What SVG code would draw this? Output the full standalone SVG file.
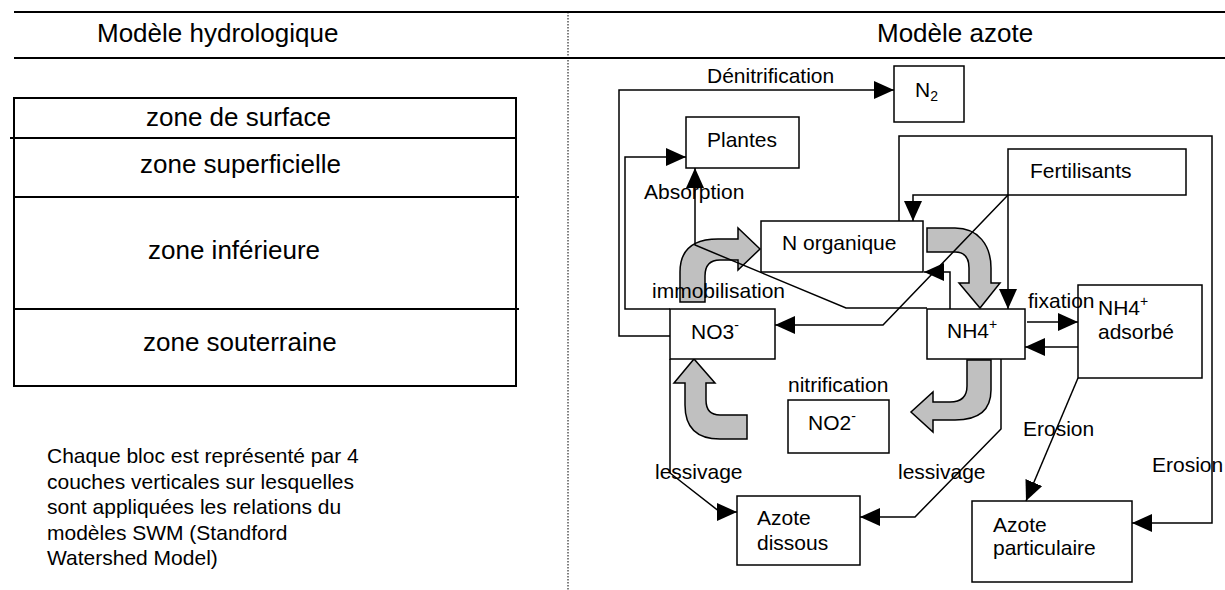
<svg xmlns="http://www.w3.org/2000/svg" width="1225" height="590" viewBox="0 0 1225 590">
<style>
text{font-family:"Liberation Sans",Arial,sans-serif;font-size:21px;fill:#000}
.h{font-size:26px}
.z{font-size:26px}
.box{fill:#fff;stroke:#000;stroke-width:1.5}
.tb{fill:#fff;stroke:#000;stroke-width:2}
.ln{fill:none;stroke:#000;stroke-width:1.5}
.arr{marker-end:url(#ah)}
.g{fill:#c0c0c0;stroke:#000;stroke-width:1.5}
.rule{stroke:#000;stroke-width:2}
.sm{font-size:14px}
</style>
<defs>
<marker id="ah" markerUnits="userSpaceOnUse" markerWidth="20" markerHeight="18" refX="20" refY="9" orient="auto"><path d="M0,0 L20,9 L0,18 Z" fill="#000"/></marker>
</defs>
<rect width="1225" height="590" fill="#fff"/>
<g id="header">
<line class="rule" x1="14" y1="12" x2="1225" y2="12"/>
<line class="rule" x1="14" y1="58" x2="1225" y2="58"/>
<line x1="568" y1="12" x2="568" y2="590" stroke="#000" stroke-width="1" stroke-dasharray="1.5,1.5"/>
<text class="h" x="97" y="42">Modèle hydrologique</text>
<text class="h" x="877" y="42">Modèle azote</text>
</g>
<g id="hydro">
<rect class="tb" x="14" y="98" width="502" height="288"/>
<line class="rule" x1="10" y1="138" x2="516" y2="138"/>
<line class="rule" x1="14" y1="197" x2="519" y2="197"/>
<line class="rule" x1="14" y1="309" x2="519" y2="309"/>
<text class="z" x="146" y="126">zone de surface</text>
<text class="z" x="140" y="173">zone superficielle</text>
<text class="z" x="148" y="259">zone inférieure</text>
<text class="z" x="143" y="351">zone souterraine</text>
</g>
<g id="note">
<text x="47" y="463">Chaque bloc est représenté par 4</text>
<text x="47" y="489">couches verticales sur lesquelles</text>
<text x="47" y="514">sont appliquées les relations du</text>
<text x="47" y="540">modèles SWM (Standford</text>
<text x="47" y="565">Watershed Model)</text>
</g>
<g id="flows">
<path class="g" d="M680,302 L680,272 Q680,239 718,239 L738,239 L738,228 L760,249 L738,270 L738,260 L720,260 Q705,260 705,276 L705,302 Z"/>
<path class="g" d="M927,228 L955,228 C978,228 991,245 991,268 L991,283 L1000,283 L980,308 L959,283 L969,283 L969,268 Q969,252 955,252 L927,252 Z"/>
<path class="g" d="M967,360 L967,386 Q967,402 950,402 L933,402 L933,392 L911,412 L933,432 L933,420 L955,420 Q991,420 991,390 L991,360 Z"/>
<path class="g" d="M747,415 L720,415 Q706,415 706,400 L706,383 L715,383 L694,359 L674,383 L685,383 L685,405 Q685,439 720,439 L747,439 Z"/>
</g>
<g id="n2"><rect class="box" x="894" y="66" width="70" height="56"/><text x="915" y="97">N<tspan class="sm" dy="4">2</tspan></text></g>
<g id="plantes"><rect class="box" x="686" y="117" width="113" height="51"/><text x="707" y="147">Plantes</text></g>
<g id="fertilisants"><rect class="box" x="1008" y="149" width="178" height="46"/><text x="1030" y="178">Fertilisants</text></g>
<g id="norganique"><rect class="box" x="761" y="221" width="162" height="51"/><text x="782" y="250">N organique</text></g>
<g id="no3"><rect class="box" x="670" y="309" width="105" height="50"/><text x="691" y="339">NO3<tspan class="sm" dy="-9">-</tspan></text></g>
<g id="nh4"><rect class="box" x="927" y="309" width="98" height="50"/><text x="947" y="338">NH4<tspan class="sm" dy="-9">+</tspan></text></g>
<g id="nh4ads"><rect class="box" x="1078" y="285" width="124" height="93"/><text x="1098" y="315">NH4<tspan class="sm" dy="-9">+</tspan></text><text x="1098" y="339">adsorbé</text></g>
<g id="no2"><rect class="box" x="788" y="400" width="101" height="53"/><text x="808" y="430">NO2<tspan class="sm" dy="-9">-</tspan></text></g>
<g id="azdissous"><rect class="box" x="737" y="496" width="123" height="69"/><text x="757" y="525">Azote</text><text x="757" y="550">dissous</text></g>
<g id="azpart"><rect class="box" x="972" y="501" width="160" height="81"/><text x="993" y="532">Azote</text><text x="993" y="555">particulaire</text></g>
<g id="connectors">
<path class="ln arr" d="M670,336 H619 V90 H894"/>
<path class="ln arr" d="M670,309 H625 V157 H686"/>
<path class="ln arr" d="M927,308 H846 L695,245 V168"/>
<path class="ln arr" d="M1008,195 H913 V221"/>
<path class="ln arr" d="M1008,195 V309"/>
<path class="ln arr" d="M1008,195 L883,325 H775"/>
<path class="ln arr" d="M950,309 V272 H924"/>
<path class="ln arr" d="M899,221 V136 H1212 V523 H1132"/>
<path class="ln arr" d="M1027,322 H1078"/>
<path class="ln arr" d="M1078,347 H1025"/>
<path class="ln arr" d="M1078,378 L1026,501"/>
<path class="ln arr" d="M670,359 V473 L720,512 H737"/>
<path class="ln arr" d="M1001,359 V429 L915,517 H860"/>
</g>
<g id="labels">
<text x="707" y="83">Dénitrification</text>
<text x="644" y="199">Absorption</text>
<text x="652" y="298">immobilisation</text>
<text x="788" y="392">nitrification</text>
<text x="1028" y="308">fixation</text>
<text x="655" y="479">lessivage</text>
<text x="898" y="479">lessivage</text>
<text x="1023" y="436">Erosion</text>
<text x="1152" y="472">Erosion</text>
</g>
</svg>
